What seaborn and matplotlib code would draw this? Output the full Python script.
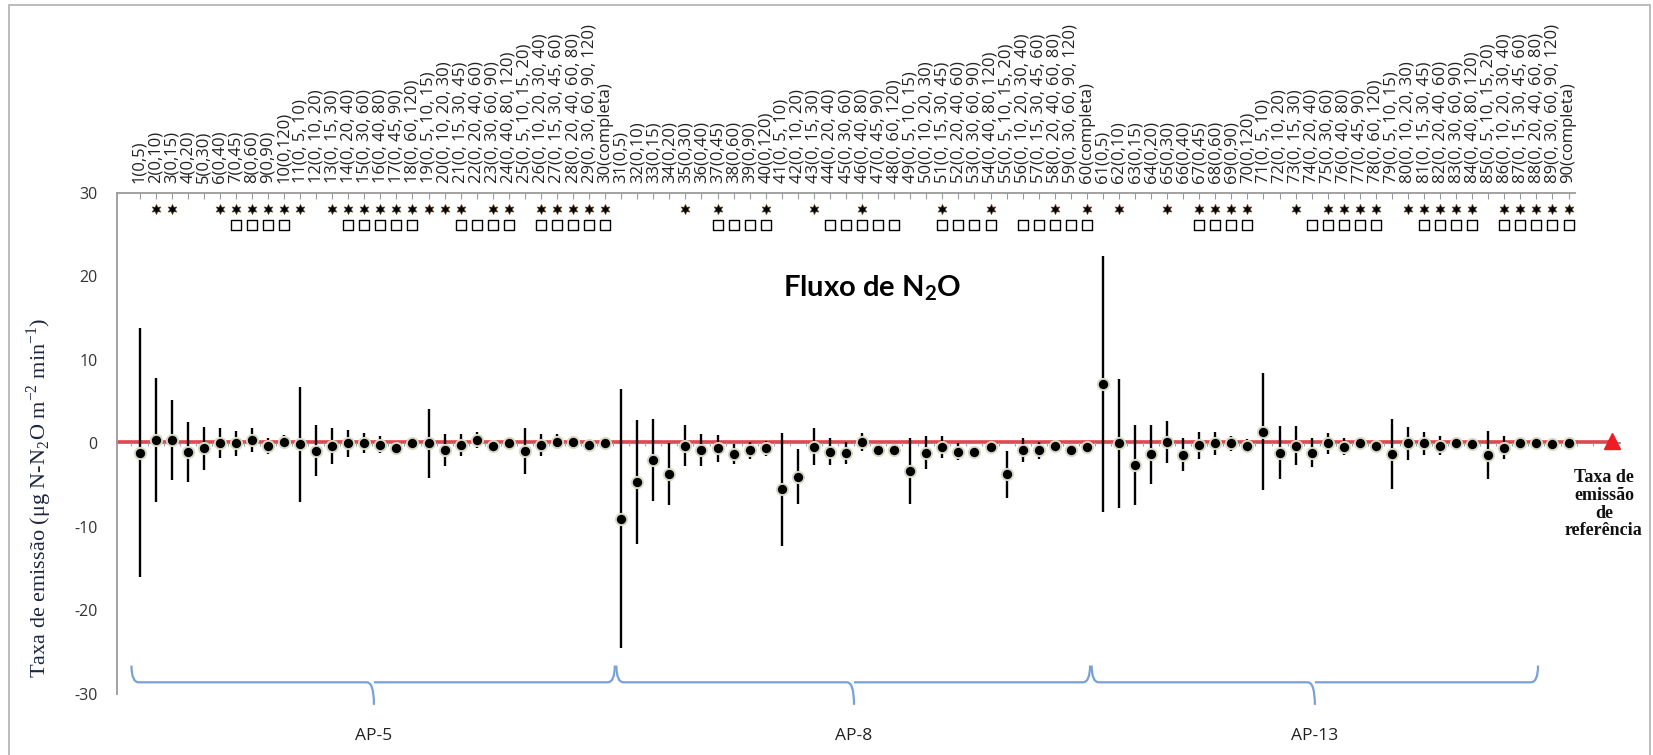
import numpy as np
import pandas as pd
import seaborn as sns
import matplotlib.pyplot as plt
from matplotlib.path import Path
from matplotlib.patches import PathPatch, Rectangle

# sampling schemes (same 30 for each site), used for the top tick labels
schemes = [
    "0,5", "0,10", "0,15", "0,20", "0,30", "0,40", "0,45", "0,60", "0,90", "0,120",
    "0, 5, 10", "0, 10, 20", "0, 15, 30", "0, 20, 40", "0, 30, 60", "0, 40, 80",
    "0, 45, 90", "0, 60, 120",
    "0, 5, 10, 15", "0, 10, 20, 30", "0, 15, 30, 45", "0, 20, 40, 60",
    "0, 30, 60, 90", "0, 40, 80, 120",
    "0, 5, 10, 15, 20", "0, 10, 20, 30, 40", "0, 15, 30, 45, 60",
    "0, 20, 40, 60, 80", "0, 30, 60, 90, 120",
    "completa",
]
sites = ["AP-5", "AP-8", "AP-13"]

mean_flux = [
    -1.1, 0.4, 0.4, -1.0, -0.6, 0.1, 0.0, 0.4, -0.3, 0.2,
    -0.1, -0.85, -0.3, 0.0, 0.1, -0.15, -0.6, 0.0, 0.0, -0.75,
    -0.15, 0.4, -0.35, 0.0, -0.9, -0.15, 0.2, 0.2, -0.15, 0.0,
    -9.0, -4.6, -2.0, -3.7, -0.25, -0.8, -0.6, -1.3, -0.8, -0.6,
    -5.5, -4.0, -0.4, -1.0, -1.1, 0.15, -0.8, -0.8, -3.3, -1.1,
    -0.4, -1.0, -1.0, -0.45, -3.7, -0.8, -0.8, -0.25, -0.8, -0.45,
    7.1, 0.0, -2.6, -1.3, 0.2, -1.35, -0.2, 0.0, 0.0, -0.25,
    1.4, -1.1, -0.25, -1.1, 0.0, -0.4, 0.0, -0.25, -1.3, 0.0,
    0.0, -0.25, 0.0, -0.1, -1.4, -0.5, 0.1, 0.1, -0.1, 0.1,
]
err_flux = [
    14.9, 7.4, 4.8, 3.6, 2.6, 1.8, 1.5, 1.4, 0.9, 0.8,
    6.9, 3.1, 2.2, 1.6, 1.2, 1.0, 0.6, 0.6, 4.1, 1.9,
    1.3, 1.0, 0.6, 0.5, 2.7, 1.3, 0.9, 0.7, 0.4, 0.4,
    15.5, 7.4, 4.9, 3.7, 2.5, 1.9, 1.6, 1.2, 1.0, 0.85,
    6.8, 3.3, 2.2, 1.6, 1.3, 1.1, 0.5, 0.5, 4.0, 2.0,
    1.3, 1.0, 0.4, 0.4, 2.8, 1.4, 1.0, 0.7, 0.3, 0.3,
    15.3, 7.7, 4.8, 3.5, 2.5, 2.0, 1.6, 1.35, 0.95, 0.8,
    7.0, 3.15, 2.3, 1.7, 1.25, 1.0, 0.6, 0.5, 4.2, 2.0,
    1.4, 1.1, 0.5, 0.5, 2.85, 1.35, 0.5, 0.4, 0.3, 0.3,
]
star_ids = [2, 3, 6, 7, 8, 9, 10, 11, 13, 14, 15, 16, 17, 18, 19, 20, 21, 23, 24,
            26, 27, 28, 29, 30,
            35, 37, 40, 43, 46, 51, 54, 58, 60,
            62, 65, 67, 68, 69, 70, 73, 75, 76, 77, 78, 80, 81, 82, 83, 84,
            86, 87, 88, 89, 90]
square_ids = [7, 8, 9, 10, 14, 15, 16, 17, 18, 21, 22, 23, 24, 26, 27, 28, 29, 30,
              37, 38, 39, 40, 44, 45, 46, 47, 48, 51, 52, 53, 54, 56, 57, 58, 59, 60,
              67, 68, 69, 70, 74, 75, 76, 77, 78, 81, 82, 83, 84, 86, 87, 88, 89, 90]
ref_rate = 0.25

cats = np.arange(1, len(mean_flux) + 1)
tick_labels = [f"{n}({schemes[(n - 1) % len(schemes)]})" for n in cats]
df = pd.DataFrame({"cat": cats, "mean": mean_flux, "err": err_flux})

sns.set_theme(style="white")
plt.rcParams["font.family"] = ["Open Sans", "DejaVu Sans"]

fig = plt.figure(figsize=(16.53, 7.55), dpi=100)
ax = fig.add_axes([0.0708, 0.0808, 0.882, 0.6636])

# chart border
fig.patches.append(Rectangle((0.0055, -0.02), 0.9925, 1.0134, transform=fig.transFigure,
                             fill=False, edgecolor="#b0b0b0", lw=1.2))

x_end = 93.2
ax.plot([-0.4, x_end], [0, 0], color="#8c8c8c", lw=1.5, clip_on=False, zorder=1)
ax.vlines(np.arange(0.5, 92.6, 1), -0.35, 0.35, color="#a0a0a0", lw=0.8, clip_on=False, zorder=1)
ax.plot([-0.4, 92.7], [ref_rate, ref_rate], color="#e8424a", lw=1.9, clip_on=False, zorder=2)
ax.plot([92.7], [ref_rate], marker="^", color="#ee1c25", ms=11, clip_on=False, zorder=5)

ax.errorbar(df["cat"], df["mean"], yerr=df["err"], fmt="none", ecolor="black",
            elinewidth=1.7, capsize=0, zorder=3)
sns.scatterplot(data=df, x="cat", y="mean", ax=ax, color="black", s=66,
                edgecolor="#d6dac2", linewidth=1.4, zorder=4, legend=False)

sns.scatterplot(x=star_ids, y=[28.1] * len(star_ids), ax=ax, marker=(6, 1, 0),
                color="black", s=55, edgecolor="#6b4a1a", linewidth=0.4, legend=False)
sns.scatterplot(x=square_ids, y=[26.2] * len(square_ids), ax=ax, marker="s",
                facecolor="white", edgecolor="black", s=42, linewidth=1.0, legend=False)

ax.set_xlim(-0.4, 90.4)
ax.set_ylim(-30, 30)
ax.set_yticks(np.arange(-30, 31, 10))
ax.set_yticklabels([str(v) for v in range(-30, 31, 10)], fontsize=11.5, color="#333333")
ax.xaxis.tick_top()
ax.set_xticks(cats)
ax.set_xticklabels(tick_labels, rotation=90, fontsize=12, color="#222222")
ax.tick_params(axis="x", which="major", direction="in", length=4, width=0.8,
               color="#9a9a9a", pad=7)
ax.tick_params(axis="y", length=0, pad=14)
for s in ["bottom", "right"]:
    ax.spines[s].set_visible(False)
for s in ["top", "left"]:
    ax.spines[s].set_color("#9a9a9a")
    ax.spines[s].set_linewidth(1.3)
ax.set_xlabel("")
ax.set_ylabel("")

ax.text(46.6, 18.6, "Fluxo de N$_\\mathdefault{2}$O", ha="center", va="center",
        fontsize=21, fontweight="bold", family="Lato", color="black")
ax.text(92.2, -7.3, "Taxa de\nemissão\nde\nreferência", ha="center", va="center",
        fontsize=13, fontweight="bold", family="Liberation Serif", linespacing=1.05,
        color="#111111")
fig.text(0.0235, 0.34,
         "Taxa de emissão (μg N-N$_\\mathdefault{2}$O m$^\\mathdefault{-2}$ min$^\\mathdefault{-1}$)",
         rotation=90, ha="center", va="center", fontsize=16,
         family="Liberation Serif", color="#1c2541")

# site braces below the data
brace_spans = [(0.5, 30.6, 15.6), (30.7, 60.2, 45.5), (60.3, 88.1, 74.2)]
y_top, y_mid, y_tip, dx = -26.6, -28.6, -31.3, 0.45
for (x0, x1, xc), site in zip(brace_spans, sites):
    verts = [(x0, y_top), (x0, y_mid), (x0 + dx, y_mid), (xc - dx, y_mid),
             (xc, y_mid), (xc, y_tip),
             (xc, y_mid), (xc + dx, y_mid), (x1 - dx, y_mid), (x1, y_mid), (x1, y_top)]
    codes = [Path.MOVETO, Path.CURVE3, Path.CURVE3, Path.LINETO, Path.CURVE3, Path.CURVE3,
             Path.MOVETO, Path.CURVE3, Path.LINETO, Path.CURVE3, Path.CURVE3]
    ax.add_patch(PathPatch(Path(verts, codes), fill=False, edgecolor="#7aa1d6",
                           lw=1.6, clip_on=False))
    ax.text(xc, -35.0, site, ha="center", va="center", fontsize=12.5, color="#222222")

fig.savefig("out.png", dpi=100)
